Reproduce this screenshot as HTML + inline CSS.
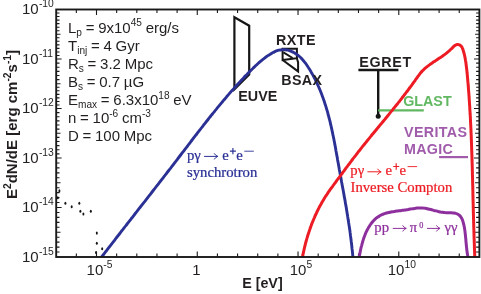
<!DOCTYPE html><html><head><meta charset="utf-8"><style>
html,body{margin:0;padding:0;background:#fff;}
body{width:481px;height:294px;overflow:hidden;position:relative;}
svg{position:absolute;left:0;top:0;will-change:transform;}
text{font-family:"Liberation Sans",sans-serif;}
.ser{font-family:"Liberation Serif",serif;}
</style></head><body>
<svg width="481" height="294" viewBox="0 0 481 294">
<defs><filter id="ga" x="-5%" y="-5%" width="110%" height="110%"><feOffset dx="0" dy="0"/></filter></defs>
<rect x="0" y="0" width="481" height="294" fill="#fff"/>
<clipPath id="cp"><rect x="56.2" y="9.5" width="423.2" height="247.5"/></clipPath>
<path d="M76.35 257.0 v-3.6 M76.35 9.5 v3.6 M96.50 257.0 v-5.6 M96.50 9.5 v5.6 M116.66 257.0 v-3.6 M116.66 9.5 v3.6 M136.81 257.0 v-3.6 M136.81 9.5 v3.6 M156.96 257.0 v-3.6 M156.96 9.5 v3.6 M177.11 257.0 v-3.6 M177.11 9.5 v3.6 M197.27 257.0 v-5.6 M197.27 9.5 v5.6 M217.42 257.0 v-3.6 M217.42 9.5 v3.6 M237.57 257.0 v-3.6 M237.57 9.5 v3.6 M257.72 257.0 v-3.6 M257.72 9.5 v3.6 M277.88 257.0 v-3.6 M277.88 9.5 v3.6 M298.03 257.0 v-5.6 M298.03 9.5 v5.6 M318.18 257.0 v-3.6 M318.18 9.5 v3.6 M338.33 257.0 v-3.6 M338.33 9.5 v3.6 M358.49 257.0 v-3.6 M358.49 9.5 v3.6 M378.64 257.0 v-3.6 M378.64 9.5 v3.6 M398.79 257.0 v-5.6 M398.79 9.5 v5.6 M418.94 257.0 v-3.6 M418.94 9.5 v3.6 M439.10 257.0 v-3.6 M439.10 9.5 v3.6 M459.25 257.0 v-3.6 M459.25 9.5 v3.6 M56.2 13.04 h3.3 M479.4 13.04 h-3.3 M56.2 16.57 h3.3 M479.4 16.57 h-3.3 M56.2 20.11 h3.3 M479.4 20.11 h-3.3 M56.2 23.64 h3.3 M479.4 23.64 h-3.3 M56.2 27.18 h3.3 M479.4 27.18 h-3.3 M56.2 30.71 h3.3 M479.4 30.71 h-3.3 M56.2 34.25 h4.3 M479.4 34.25 h-4.3 M56.2 37.79 h3.3 M479.4 37.79 h-3.3 M56.2 41.32 h3.3 M479.4 41.32 h-3.3 M56.2 44.86 h3.3 M479.4 44.86 h-3.3 M56.2 48.39 h3.3 M479.4 48.39 h-3.3 M56.2 51.93 h3.3 M479.4 51.93 h-3.3 M56.2 55.46 h3.3 M479.4 55.46 h-3.3 M56.2 59.00 h5.4 M479.4 59.00 h-5.4 M56.2 63.13 h3.3 M479.4 63.13 h-3.3 M56.2 67.25 h3.3 M479.4 67.25 h-3.3 M56.2 71.38 h3.3 M479.4 71.38 h-3.3 M56.2 75.50 h3.3 M479.4 75.50 h-3.3 M56.2 79.62 h3.3 M479.4 79.62 h-3.3 M56.2 83.75 h4.3 M479.4 83.75 h-4.3 M56.2 87.29 h3.3 M479.4 87.29 h-3.3 M56.2 90.82 h3.3 M479.4 90.82 h-3.3 M56.2 94.36 h3.3 M479.4 94.36 h-3.3 M56.2 97.89 h3.3 M479.4 97.89 h-3.3 M56.2 101.43 h3.3 M479.4 101.43 h-3.3 M56.2 104.96 h3.3 M479.4 104.96 h-3.3 M56.2 108.50 h5.4 M479.4 108.50 h-5.4 M56.2 112.63 h3.3 M479.4 112.63 h-3.3 M56.2 116.75 h3.3 M479.4 116.75 h-3.3 M56.2 120.88 h3.3 M479.4 120.88 h-3.3 M56.2 125.00 h3.3 M479.4 125.00 h-3.3 M56.2 129.12 h3.3 M479.4 129.12 h-3.3 M56.2 133.25 h4.3 M479.4 133.25 h-4.3 M56.2 137.38 h3.3 M479.4 137.38 h-3.3 M56.2 141.50 h3.3 M479.4 141.50 h-3.3 M56.2 145.62 h3.3 M479.4 145.62 h-3.3 M56.2 149.75 h3.3 M479.4 149.75 h-3.3 M56.2 153.87 h3.3 M479.4 153.87 h-3.3 M56.2 158.00 h5.4 M479.4 158.00 h-5.4 M56.2 162.95 h3.3 M479.4 162.95 h-3.3 M56.2 167.90 h3.3 M479.4 167.90 h-3.3 M56.2 172.85 h3.3 M479.4 172.85 h-3.3 M56.2 177.80 h3.3 M479.4 177.80 h-3.3 M56.2 182.75 h4.3 M479.4 182.75 h-4.3 M56.2 187.70 h3.3 M479.4 187.70 h-3.3 M56.2 192.65 h3.3 M479.4 192.65 h-3.3 M56.2 197.60 h3.3 M479.4 197.60 h-3.3 M56.2 202.55 h3.3 M479.4 202.55 h-3.3 M56.2 207.50 h5.4 M479.4 207.50 h-5.4 M56.2 212.45 h3.3 M479.4 212.45 h-3.3 M56.2 217.40 h3.3 M479.4 217.40 h-3.3 M56.2 222.35 h3.3 M479.4 222.35 h-3.3 M56.2 227.30 h3.3 M479.4 227.30 h-3.3 M56.2 232.25 h4.3 M479.4 232.25 h-4.3 M56.2 237.20 h3.3 M479.4 237.20 h-3.3 M56.2 242.15 h3.3 M479.4 242.15 h-3.3 M56.2 247.10 h3.3 M479.4 247.10 h-3.3 M56.2 252.05 h3.3 M479.4 252.05 h-3.3" stroke="#1a1a1a" stroke-width="1.1" fill="none"/>
<g stroke="#161616" stroke-width="2.2" fill="none" stroke-linejoin="miter">
<path d="M234.4 17.2 L249.2 25.7 L249.2 74.5 L234.4 89.4 Z"/>
<path d="M282.6 48.8 L296.9 48.8 L296.9 58.2 L282.6 60.0 Z" stroke-width="2.0"/>
<path d="M283.4 52.4 L292.6 58" stroke-width="2.0"/>
<path d="M282.6 60.0 L298.1 71.4 L298.1 62.4 L296.9 58.2" stroke-width="2.0"/>
<path d="M358.4 70 H398.4" stroke-width="2.3"/>
<path d="M378.2 70 V116" stroke-width="2.4"/>
</g>
<circle cx="378.2" cy="116.2" r="2.5" fill="#161616"/>
<path d="M378.2 110.4 H423.8" stroke="#62b862" stroke-width="2.3" fill="none"/>
<path d="M439.1 157.1 H468" stroke="#a05cab" stroke-width="2.2" fill="none"/>
<g clip-path="url(#cp)">
<path d="M359.1 257.9 C359.1 257.6 359.3 256.6 359.4 255.9 C359.5 255.3 359.7 254.6 359.8 253.9 C359.9 253.2 360.1 252.5 360.2 251.8 C360.3 251.1 360.5 250.3 360.6 249.6 C360.8 248.9 361.0 248.2 361.1 247.4 C361.3 246.7 361.5 246.0 361.7 245.3 C361.9 244.5 362.1 243.8 362.3 243.0 C362.5 242.3 362.7 241.6 362.9 240.8 C363.2 240.1 363.4 239.4 363.6 238.7 C363.9 237.9 364.1 237.2 364.4 236.5 C364.7 235.8 364.9 235.1 365.2 234.3 C365.5 233.6 365.8 232.9 366.1 232.2 C366.4 231.6 366.8 230.9 367.1 230.2 C367.4 229.5 367.8 228.9 368.2 228.2 C368.5 227.6 368.9 226.9 369.3 226.3 C369.7 225.7 370.1 225.1 370.5 224.5 C370.9 223.9 371.3 223.3 371.8 222.7 C372.2 222.2 372.7 221.6 373.2 221.1 C373.6 220.6 374.1 220.1 374.6 219.6 C375.2 219.1 375.7 218.6 376.2 218.2 C376.8 217.7 377.3 217.3 377.9 216.9 C378.5 216.5 379.1 216.1 379.7 215.8 C380.3 215.5 380.9 215.1 381.5 214.8 C382.2 214.5 382.8 214.3 383.5 214.0 C384.2 213.8 384.9 213.5 385.6 213.3 C386.3 213.1 387.0 212.9 387.7 212.7 C388.5 212.5 389.2 212.4 389.9 212.2 C390.7 212.1 391.4 211.9 392.2 211.8 C392.9 211.7 393.7 211.6 394.5 211.5 C395.2 211.3 396.0 211.2 396.8 211.1 C397.5 211.0 398.3 210.9 399.1 210.8 C399.9 210.7 400.6 210.6 401.4 210.5 C402.2 210.4 402.9 210.3 403.7 210.2 C404.5 210.1 405.2 210.0 406.0 209.9 C406.7 209.7 407.4 209.6 408.2 209.5 C408.9 209.3 409.6 209.2 410.4 209.1 C411.1 209.0 411.8 208.8 412.5 208.7 C413.3 208.6 414.0 208.5 414.7 208.4 C415.4 208.3 416.1 208.2 416.8 208.1 C417.5 208.1 418.2 208.0 418.9 208.0 C419.6 208.0 420.3 207.9 421.1 208.0 C421.8 208.0 422.5 208.0 423.2 208.1 C423.9 208.1 424.6 208.2 425.3 208.3 C426.0 208.4 426.7 208.6 427.4 208.7 C428.1 208.9 428.8 209.0 429.5 209.2 C430.2 209.4 430.9 209.6 431.7 209.8 C432.4 210.0 433.1 210.2 433.8 210.4 C434.5 210.5 435.3 210.7 436.0 210.9 C436.7 211.1 437.4 211.3 438.2 211.5 C438.9 211.6 439.7 211.8 440.4 212.0 C441.1 212.1 441.9 212.2 442.6 212.3 C443.4 212.4 444.2 212.5 444.9 212.6 C445.7 212.6 446.5 212.7 447.2 212.7 C448.0 212.7 448.8 212.7 449.5 212.7 C450.3 212.8 451.0 212.8 451.7 212.8 C452.5 212.9 453.2 212.9 453.9 213.0 C454.5 213.1 455.2 213.2 455.8 213.4 C456.5 213.6 457.1 213.8 457.6 214.1 C458.2 214.3 458.7 214.7 459.2 215.1 C459.6 215.5 460.1 216.0 460.5 216.5 C460.9 217.0 461.2 217.6 461.6 218.2 C461.9 218.8 462.2 219.5 462.5 220.2 C462.8 220.9 463.0 221.6 463.2 222.3 C463.4 223.1 463.6 223.9 463.8 224.6 C464.0 225.4 464.1 226.2 464.3 227.0 C464.4 227.8 464.6 228.6 464.7 229.4 C464.8 230.2 464.9 231.0 465.0 231.7 C465.1 232.5 465.2 233.3 465.3 234.0 C465.4 234.8 465.4 235.5 465.5 236.2 C465.6 237.0 465.7 237.7 465.7 238.4 C465.8 239.1 465.9 239.8 465.9 240.6 C466.0 241.3 466.0 242.0 466.1 242.7 C466.2 243.4 466.2 244.1 466.3 244.8 C466.4 245.5 466.4 246.2 466.5 246.9 C466.6 247.6 466.7 248.3 466.7 249.0 C466.8 249.8 466.9 250.5 467.0 251.2 C467.1 251.9 467.2 252.7 467.3 253.4 C467.4 254.1 467.5 254.9 467.7 255.7 C467.8 256.4 468.0 257.6 468.1 258.0" stroke="#8e2f9e" stroke-width="3" fill="none" stroke-linejoin="round"/>
<path d="M100.7 258.3 C101.0 257.9 101.9 256.6 102.6 255.8 C103.2 254.9 103.9 254.1 104.5 253.2 C105.2 252.4 105.8 251.5 106.5 250.7 C107.1 249.9 107.8 249.0 108.4 248.2 C109.1 247.3 109.7 246.5 110.4 245.6 C111.0 244.8 111.7 243.9 112.3 243.1 C113.0 242.3 113.6 241.4 114.3 240.6 C114.9 239.7 115.6 238.9 116.2 238.0 C116.9 237.2 117.5 236.3 118.2 235.5 C118.9 234.7 119.5 233.8 120.2 233.0 C120.8 232.1 121.5 231.3 122.1 230.4 C122.8 229.6 123.4 228.8 124.1 227.9 C124.7 227.1 125.4 226.2 126.1 225.4 C126.7 224.5 127.4 223.7 128.0 222.9 C128.7 222.0 129.3 221.2 130.0 220.3 C130.7 219.5 131.3 218.6 132.0 217.8 C132.6 217.0 133.3 216.1 133.9 215.3 C134.6 214.4 135.2 213.6 135.9 212.7 C136.6 211.9 137.2 211.1 137.9 210.2 C138.5 209.4 139.2 208.5 139.8 207.7 C140.5 206.9 141.2 206.0 141.8 205.2 C142.5 204.3 143.1 203.5 143.8 202.6 C144.5 201.8 145.1 201.0 145.8 200.1 C146.4 199.3 147.1 198.4 147.7 197.6 C148.4 196.7 149.1 195.9 149.7 195.1 C150.4 194.2 151.0 193.4 151.7 192.5 C152.3 191.7 153.0 190.8 153.6 190.0 C154.3 189.2 155.0 188.3 155.6 187.5 C156.3 186.6 156.9 185.8 157.6 184.9 C158.2 184.1 158.9 183.3 159.5 182.4 C160.2 181.6 160.9 180.7 161.5 179.9 C162.2 179.0 162.8 178.2 163.5 177.3 C164.1 176.5 164.8 175.7 165.4 174.8 C166.1 174.0 166.7 173.1 167.4 172.3 C168.0 171.4 168.7 170.6 169.4 169.7 C170.0 168.9 170.7 168.1 171.3 167.2 C172.0 166.4 172.6 165.5 173.3 164.7 C173.9 163.8 174.6 163.0 175.2 162.1 C175.9 161.3 176.5 160.4 177.2 159.6 C177.8 158.7 178.4 157.9 179.1 157.0 C179.7 156.2 180.4 155.3 181.0 154.5 C181.7 153.6 182.3 152.8 183.0 151.9 C183.6 151.1 184.3 150.3 184.9 149.4 C185.6 148.6 186.2 147.7 186.9 146.9 C187.5 146.0 188.2 145.2 188.8 144.3 C189.4 143.5 190.1 142.6 190.7 141.8 C191.4 140.9 192.0 140.1 192.7 139.2 C193.3 138.4 194.0 137.5 194.6 136.7 C195.3 135.9 195.9 135.0 196.6 134.2 C197.2 133.3 197.9 132.5 198.5 131.6 C199.2 130.8 199.8 129.9 200.5 129.1 C201.1 128.3 201.8 127.4 202.5 126.6 C203.1 125.7 203.8 124.9 204.4 124.1 C205.1 123.2 205.7 122.4 206.4 121.5 C207.1 120.7 207.7 119.9 208.4 119.0 C209.0 118.2 209.7 117.4 210.4 116.5 C211.0 115.7 211.7 114.9 212.4 114.0 C213.0 113.2 213.7 112.4 214.4 111.6 C215.0 110.7 215.7 109.9 216.4 109.1 C217.1 108.2 217.7 107.4 218.4 106.6 C219.1 105.8 219.8 105.0 220.5 104.1 C221.1 103.3 221.8 102.5 222.5 101.7 C223.2 100.9 223.9 100.0 224.6 99.2 C225.3 98.4 226.0 97.6 226.6 96.8 C227.3 96.0 228.0 95.2 228.7 94.4 C229.4 93.6 230.1 92.8 230.8 91.9 C231.5 91.1 232.2 90.3 233.0 89.5 C233.7 88.7 234.4 87.9 235.1 87.1 C235.8 86.4 236.5 85.6 237.2 84.8 C238.0 84.0 238.7 83.2 239.4 82.4 C240.1 81.6 240.9 80.8 241.6 80.0 C242.3 79.3 243.1 78.5 243.8 77.7 C244.5 76.9 245.3 76.1 246.0 75.4 C246.8 74.6 247.5 73.8 248.2 73.1 C249.0 72.3 249.8 71.5 250.5 70.8 C251.3 70.0 252.0 69.2 252.8 68.5 C253.6 67.7 254.3 67.0 255.1 66.2 C255.9 65.5 256.7 64.8 257.5 64.0 C258.3 63.3 259.1 62.6 259.9 61.9 C260.7 61.2 261.5 60.5 262.3 59.8 C263.2 59.1 264.0 58.5 264.9 57.8 C265.7 57.2 266.6 56.6 267.5 55.9 C268.4 55.3 269.3 54.7 270.2 54.2 C271.1 53.6 272.0 53.0 273.0 52.5 C273.9 52.1 274.9 51.6 275.8 51.2 C276.8 50.8 277.8 50.5 278.8 50.2 C279.8 50.0 280.8 49.8 281.8 49.7 C282.9 49.6 283.9 49.6 284.9 49.7 C285.9 49.8 286.9 49.9 287.9 50.2 C288.9 50.4 289.9 50.8 290.9 51.1 C291.9 51.5 292.8 52.0 293.8 52.5 C294.7 53.0 295.6 53.6 296.5 54.2 C297.4 54.8 298.2 55.5 299.0 56.1 C299.9 56.8 300.6 57.6 301.4 58.4 C302.1 59.1 302.8 59.9 303.5 60.8 C304.2 61.6 304.9 62.5 305.6 63.3 C306.2 64.2 306.8 65.1 307.4 66.0 C308.0 66.9 308.6 67.8 309.2 68.8 C309.8 69.7 310.3 70.6 310.9 71.6 C311.4 72.5 312.0 73.4 312.5 74.4 C313.0 75.3 313.5 76.3 314.0 77.2 C314.5 78.2 315.0 79.1 315.5 80.1 C316.0 81.1 316.4 82.0 316.9 83.0 C317.3 84.0 317.8 84.9 318.2 85.9 C318.7 86.9 319.1 87.9 319.5 88.8 C319.9 89.8 320.3 90.8 320.7 91.8 C321.1 92.8 321.5 93.8 321.9 94.8 C322.2 95.8 322.6 96.8 323.0 97.8 C323.3 98.8 323.7 99.8 324.0 100.8 C324.4 101.8 324.7 102.8 325.0 103.8 C325.3 104.8 325.7 105.8 326.0 106.8 C326.3 107.8 326.6 108.9 326.9 109.9 C327.2 110.9 327.5 111.9 327.8 112.9 C328.0 114.0 328.3 115.0 328.6 116.0 C328.9 117.0 329.1 118.1 329.4 119.1 C329.7 120.1 329.9 121.2 330.2 122.2 C330.4 123.2 330.6 124.3 330.9 125.3 C331.1 126.4 331.4 127.4 331.6 128.4 C331.8 129.5 332.0 130.5 332.3 131.6 C332.5 132.6 332.7 133.7 332.9 134.7 C333.1 135.7 333.4 136.8 333.6 137.8 C333.8 138.9 334.0 139.9 334.2 141.0 C334.4 142.0 334.6 143.1 334.8 144.1 C335.0 145.2 335.2 146.2 335.4 147.3 C335.6 148.3 335.8 149.4 335.9 150.5 C336.1 151.5 336.3 152.6 336.5 153.6 C336.7 154.7 336.9 155.7 337.1 156.8 C337.3 157.8 337.5 158.9 337.6 159.9 C337.8 161.0 338.0 162.0 338.2 163.1 C338.4 164.2 338.6 165.2 338.8 166.3 C339.0 167.3 339.2 168.4 339.3 169.4 C339.5 170.5 339.7 171.5 339.9 172.6 C340.1 173.6 340.3 174.7 340.5 175.7 C340.7 176.8 340.9 177.8 341.1 178.9 C341.3 179.9 341.5 181.0 341.6 182.0 C341.8 183.1 342.0 184.1 342.2 185.2 C342.4 186.2 342.6 187.3 342.8 188.3 C343.0 189.4 343.2 190.4 343.4 191.5 C343.6 192.5 343.8 193.6 343.9 194.6 C344.1 195.7 344.3 196.7 344.5 197.8 C344.7 198.8 344.9 199.9 345.1 200.9 C345.2 202.0 345.4 203.0 345.6 204.1 C345.8 205.1 346.0 206.2 346.2 207.2 C346.3 208.3 346.5 209.3 346.7 210.4 C346.9 211.4 347.0 212.5 347.2 213.5 C347.4 214.6 347.6 215.6 347.7 216.7 C347.9 217.8 348.1 218.8 348.2 219.9 C348.4 220.9 348.6 222.0 348.7 223.0 C348.9 224.1 349.0 225.1 349.2 226.2 C349.4 227.2 349.5 228.3 349.7 229.3 C349.8 230.4 350.0 231.5 350.1 232.5 C350.3 233.6 350.4 234.6 350.5 235.7 C350.7 236.7 350.8 237.8 350.9 238.9 C351.1 239.9 351.2 241.0 351.3 242.0 C351.5 243.1 351.6 244.2 351.7 245.2 C351.8 246.3 351.9 247.4 352.0 248.4 C352.2 249.5 352.3 250.5 352.4 251.6 C352.5 252.7 352.6 253.7 352.7 254.8 C352.8 255.9 352.9 257.5 352.9 258.0" stroke="#2b3095" stroke-width="2.9" fill="none" stroke-linejoin="round"/>
<path d="M302.4 257.5 C302.5 257.1 302.7 255.9 302.9 255.1 C303.0 254.3 303.2 253.5 303.4 252.7 C303.5 251.9 303.7 251.1 303.9 250.3 C304.1 249.6 304.2 248.8 304.4 248.0 C304.6 247.2 304.8 246.4 305.0 245.6 C305.2 244.8 305.4 244.0 305.6 243.2 C305.8 242.5 306.0 241.7 306.2 240.9 C306.5 240.1 306.7 239.3 306.9 238.5 C307.1 237.7 307.4 237.0 307.6 236.2 C307.8 235.4 308.1 234.6 308.3 233.9 C308.6 233.1 308.8 232.3 309.1 231.5 C309.3 230.8 309.6 230.0 309.9 229.2 C310.1 228.4 310.4 227.7 310.7 226.9 C311.0 226.2 311.2 225.4 311.5 224.6 C311.8 223.9 312.1 223.1 312.4 222.3 C312.7 221.6 313.0 220.8 313.3 220.1 C313.6 219.3 313.9 218.6 314.3 217.8 C314.6 217.1 314.9 216.3 315.2 215.6 C315.6 214.9 315.9 214.1 316.3 213.4 C316.6 212.6 317.0 211.9 317.3 211.2 C317.7 210.5 318.0 209.7 318.4 209.0 C318.8 208.3 319.1 207.6 319.5 206.8 C319.9 206.1 320.3 205.4 320.7 204.7 C321.1 204.0 321.5 203.3 321.9 202.6 C322.3 201.9 322.7 201.2 323.1 200.5 C323.5 199.8 323.9 199.1 324.3 198.4 C324.8 197.7 325.2 197.0 325.6 196.3 C326.1 195.7 326.5 195.0 327.0 194.3 C327.4 193.6 327.9 193.0 328.3 192.3 C328.8 191.6 329.3 191.0 329.7 190.3 C330.2 189.6 330.7 189.0 331.1 188.3 C331.6 187.6 332.1 187.0 332.6 186.3 C333.0 185.7 333.5 185.0 334.0 184.4 C334.5 183.7 335.0 183.1 335.5 182.4 C335.9 181.8 336.4 181.1 336.9 180.4 C337.4 179.8 337.9 179.1 338.4 178.5 C338.9 177.8 339.3 177.2 339.8 176.5 C340.3 175.9 340.8 175.2 341.3 174.6 C341.8 173.9 342.2 173.3 342.7 172.6 C343.2 172.0 343.7 171.3 344.2 170.7 C344.7 170.0 345.1 169.4 345.6 168.7 C346.1 168.0 346.6 167.4 347.1 166.7 C347.6 166.1 348.0 165.4 348.5 164.8 C349.0 164.1 349.5 163.5 350.0 162.8 C350.5 162.2 351.0 161.5 351.5 160.9 C351.9 160.2 352.4 159.6 352.9 158.9 C353.4 158.3 353.9 157.7 354.4 157.0 C354.9 156.4 355.4 155.7 355.9 155.1 C356.4 154.4 356.9 153.8 357.4 153.1 C357.9 152.5 358.4 151.9 358.9 151.2 C359.4 150.6 359.9 150.0 360.4 149.3 C360.9 148.7 361.4 148.0 361.9 147.4 C362.4 146.8 362.9 146.1 363.4 145.5 C363.9 144.9 364.4 144.2 365.0 143.6 C365.5 143.0 366.0 142.3 366.5 141.7 C367.0 141.1 367.5 140.4 368.0 139.8 C368.5 139.2 369.1 138.5 369.6 137.9 C370.1 137.3 370.6 136.7 371.1 136.0 C371.6 135.4 372.1 134.8 372.7 134.1 C373.2 133.5 373.7 132.9 374.2 132.3 C374.7 131.6 375.2 131.0 375.8 130.4 C376.3 129.7 376.8 129.1 377.3 128.5 C377.8 127.9 378.3 127.2 378.9 126.6 C379.4 126.0 379.9 125.4 380.4 124.7 C380.9 124.1 381.5 123.5 382.0 122.8 C382.5 122.2 383.0 121.6 383.5 121.0 C384.0 120.3 384.6 119.7 385.1 119.1 C385.6 118.4 386.1 117.8 386.6 117.2 C387.1 116.6 387.7 115.9 388.2 115.3 C388.7 114.7 389.2 114.0 389.7 113.4 C390.2 112.8 390.7 112.2 391.2 111.5 C391.8 110.9 392.3 110.3 392.8 109.6 C393.3 109.0 393.8 108.4 394.3 107.7 C394.8 107.1 395.3 106.5 395.8 105.8 C396.3 105.2 396.8 104.6 397.4 103.9 C397.9 103.3 398.4 102.7 398.9 102.0 C399.4 101.4 399.9 100.7 400.4 100.1 C400.9 99.5 401.4 98.8 401.9 98.2 C402.4 97.5 402.9 96.9 403.4 96.3 C403.8 95.6 404.3 95.0 404.8 94.3 C405.3 93.7 405.8 93.0 406.3 92.4 C406.8 91.7 407.3 91.1 407.8 90.5 C408.3 89.8 408.7 89.1 409.2 88.5 C409.7 87.8 410.2 87.2 410.7 86.5 C411.2 85.9 411.6 85.2 412.1 84.6 C412.6 83.9 413.1 83.2 413.5 82.6 C414.0 81.9 414.5 81.3 415.0 80.6 C415.4 79.9 415.9 79.3 416.4 78.6 C416.9 77.9 417.3 77.3 417.8 76.6 C418.3 75.9 418.8 75.3 419.3 74.6 C419.8 74.0 420.3 73.4 420.8 72.7 C421.3 72.1 421.8 71.5 422.4 70.9 C422.9 70.3 423.5 69.8 424.1 69.2 C424.7 68.7 425.3 68.1 425.9 67.6 C426.5 67.1 427.2 66.6 427.8 66.1 C428.5 65.6 429.1 65.1 429.8 64.6 C430.4 64.1 431.1 63.7 431.8 63.2 C432.5 62.7 433.1 62.3 433.8 61.8 C434.5 61.4 435.2 60.9 435.9 60.5 C436.6 60.0 437.3 59.6 437.9 59.1 C438.6 58.7 439.3 58.3 440.0 57.8 C440.7 57.4 441.3 56.9 442.0 56.4 C442.6 56.0 443.3 55.5 443.9 55.1 C444.6 54.6 445.2 54.1 445.9 53.6 C446.5 53.1 447.1 52.6 447.7 52.1 C448.3 51.6 449.0 51.1 449.6 50.5 C450.2 50.0 450.8 49.4 451.4 48.8 C452.0 48.3 452.6 47.6 453.2 47.0 C453.8 46.5 454.4 45.8 455.1 45.4 C455.7 44.9 456.4 44.6 457.2 44.5 C457.9 44.4 458.8 44.5 459.5 44.8 C460.2 45.1 460.8 45.6 461.3 46.2 C461.8 46.8 462.2 47.5 462.5 48.3 C462.8 49.0 463.0 49.9 463.3 50.7 C463.5 51.5 463.7 52.3 464.0 53.1 C464.2 53.9 464.4 54.7 464.6 55.5 C464.7 56.3 464.9 57.1 465.1 57.9 C465.2 58.7 465.4 59.5 465.5 60.3 C465.7 61.1 465.8 61.9 465.9 62.7 C466.0 63.6 466.1 64.4 466.2 65.2 C466.3 66.0 466.4 66.8 466.5 67.6 C466.6 68.4 466.7 69.2 466.8 70.0 C466.9 70.8 467.0 71.6 467.0 72.4 C467.1 73.2 467.2 74.0 467.3 74.8 C467.3 75.7 467.4 76.5 467.5 77.3 C467.6 78.1 467.6 78.9 467.7 79.7 C467.8 80.5 467.8 81.3 467.9 82.1 C468.0 82.9 468.1 83.7 468.1 84.5 C468.2 85.3 468.3 86.2 468.3 87.0 C468.4 87.8 468.4 88.6 468.5 89.4 C468.6 90.2 468.6 91.0 468.7 91.8 C468.8 92.6 468.8 93.4 468.9 94.2 C468.9 95.1 469.0 95.9 469.1 96.7 C469.1 97.5 469.2 98.3 469.2 99.1 C469.3 99.9 469.3 100.7 469.4 101.5 C469.4 102.3 469.5 103.2 469.5 104.0 C469.6 104.8 469.7 105.6 469.7 106.4 C469.8 107.2 469.8 108.0 469.8 108.8 C469.9 109.6 469.9 110.4 470.0 111.3 C470.0 112.1 470.1 112.9 470.1 113.7 C470.2 114.5 470.2 115.3 470.3 116.1 C470.3 116.9 470.4 117.7 470.4 118.6 C470.4 119.4 470.5 120.2 470.5 121.0 C470.6 121.8 470.6 122.6 470.6 123.4 C470.7 124.2 470.7 125.0 470.8 125.9 C470.8 126.7 470.8 127.5 470.9 128.3 C470.9 129.1 470.9 129.9 471.0 130.7 C471.0 131.5 471.0 132.4 471.1 133.2 C471.1 134.0 471.2 134.8 471.2 135.6 C471.2 136.4 471.3 137.2 471.3 138.0 C471.3 138.9 471.3 139.7 471.4 140.5 C471.4 141.3 471.4 142.1 471.5 142.9 C471.5 143.7 471.5 144.5 471.6 145.4 C471.6 146.2 471.6 147.0 471.6 147.8 C471.7 148.6 471.7 149.4 471.7 150.2 C471.8 151.0 471.8 151.9 471.8 152.7 C471.8 153.5 471.9 154.3 471.9 155.1 C471.9 155.9 471.9 156.7 472.0 157.6 C472.0 158.4 472.0 159.2 472.0 160.0 C472.1 160.8 472.1 161.6 472.1 162.4 C472.1 163.2 472.2 164.1 472.2 164.9 C472.2 165.7 472.2 166.5 472.3 167.3 C472.3 168.1 472.3 168.9 472.3 169.8 C472.3 170.6 472.4 171.4 472.4 172.2 C472.4 173.0 472.4 173.8 472.4 174.6 C472.5 175.4 472.5 176.3 472.5 177.1 C472.5 177.9 472.6 178.7 472.6 179.5 C472.6 180.3 472.6 181.1 472.6 182.0 C472.7 182.8 472.7 183.6 472.7 184.4 C472.7 185.2 472.7 186.0 472.8 186.8 C472.8 187.6 472.8 188.5 472.8 189.3 C472.8 190.1 472.9 190.9 472.9 191.7 C472.9 192.5 472.9 193.3 472.9 194.2 C472.9 195.0 473.0 195.8 473.0 196.6 C473.0 197.4 473.0 198.2 473.0 199.0 C473.1 199.8 473.1 200.7 473.1 201.5 C473.1 202.3 473.1 203.1 473.2 203.9 C473.2 204.7 473.2 205.5 473.2 206.4 C473.2 207.2 473.3 208.0 473.3 208.8 C473.3 209.6 473.3 210.4 473.3 211.2 C473.4 212.0 473.4 212.9 473.4 213.7 C473.4 214.5 473.4 215.3 473.5 216.1 C473.5 216.9 473.5 217.7 473.5 218.5 C473.6 219.4 473.6 220.2 473.6 221.0 C473.6 221.8 473.6 222.6 473.7 223.4 C473.7 224.2 473.7 225.0 473.7 225.9 C473.8 226.7 473.8 227.5 473.8 228.3 C473.8 229.1 473.9 229.9 473.9 230.7 C473.9 231.5 473.9 232.4 474.0 233.2 C474.0 234.0 474.0 234.8 474.0 235.6 C474.1 236.4 474.1 237.2 474.1 238.0 C474.1 238.8 474.2 239.7 474.2 240.5 C474.2 241.3 474.2 242.1 474.3 242.9 C474.3 243.7 474.3 244.5 474.4 245.3 C474.4 246.1 474.4 247.0 474.4 247.8 C474.5 248.6 474.5 249.4 474.5 250.2 C474.6 251.0 474.6 251.8 474.6 252.6 C474.7 253.4 474.7 254.3 474.7 255.1 C474.8 255.9 474.8 257.1 474.8 257.5" stroke="#ed1c24" stroke-width="3" fill="none" stroke-linejoin="round"/>
</g>
<ellipse cx="59.4" cy="190.9" rx="1.0" ry="1.55" fill="#161616"/>
<ellipse cx="57.8" cy="197.7" rx="1.0" ry="1.55" fill="#161616"/>
<ellipse cx="65.4" cy="203.2" rx="1.0" ry="1.55" fill="#161616"/>
<ellipse cx="71.7" cy="206.7" rx="1.0" ry="1.55" fill="#161616"/>
<ellipse cx="79.3" cy="203.2" rx="1.0" ry="1.55" fill="#161616"/>
<ellipse cx="80.4" cy="211.3" rx="1.0" ry="1.55" fill="#161616"/>
<ellipse cx="83.4" cy="214.0" rx="1.0" ry="1.55" fill="#161616"/>
<ellipse cx="90.8" cy="211.3" rx="1.0" ry="1.55" fill="#161616"/>
<ellipse cx="96.8" cy="233.1" rx="1.0" ry="1.55" fill="#161616"/>
<ellipse cx="96.8" cy="243.2" rx="1.0" ry="1.55" fill="#161616"/>
<ellipse cx="102.2" cy="248.7" rx="1.0" ry="1.55" fill="#161616"/>
<ellipse cx="96.0" cy="252.5" rx="1.0" ry="1.55" fill="#161616"/>
<rect x="56.2" y="9.5" width="423.2" height="247.5" fill="none" stroke="#1a1a1a" stroke-width="1.9"/>
<g filter="url(#ga)">
<text x="38.6" y="261.5" font-size="15" text-anchor="end" fill="#231f20">10</text>
<text x="38.9" y="254.9" font-size="10.3" fill="#231f20">-15</text>
<text x="38.6" y="212.0" font-size="15" text-anchor="end" fill="#231f20">10</text>
<text x="38.9" y="205.4" font-size="10.3" fill="#231f20">-14</text>
<text x="38.6" y="162.5" font-size="15" text-anchor="end" fill="#231f20">10</text>
<text x="38.9" y="155.9" font-size="10.3" fill="#231f20">-13</text>
<text x="38.6" y="113.0" font-size="15" text-anchor="end" fill="#231f20">10</text>
<text x="38.9" y="106.4" font-size="10.3" fill="#231f20">-12</text>
<text x="38.6" y="63.5" font-size="15" text-anchor="end" fill="#231f20">10</text>
<text x="38.9" y="56.9" font-size="10.3" fill="#231f20">-11</text>
<text x="38.6" y="14.0" font-size="15" text-anchor="end" fill="#231f20">10</text>
<text x="38.9" y="7.4" font-size="10.3" fill="#231f20">-10</text>
<text x="99.5" y="274.6" font-size="15" text-anchor="middle" fill="#231f20">10<tspan font-size="10.3" dy="-6.6">-5</tspan></text>
<text x="196.5" y="274.6" font-size="15" text-anchor="middle" fill="#231f20">1</text>
<text x="301.0" y="274.6" font-size="15" text-anchor="middle" fill="#231f20">10<tspan font-size="10.3" dy="-6.6">5</tspan></text>
<text x="401.8" y="274.6" font-size="15" text-anchor="middle" fill="#231f20">10<tspan font-size="10.3" dy="-6.6">10</tspan></text>
<text x="262.4" y="287.7" font-size="14.3" font-weight="bold" text-anchor="middle" fill="#231f20">E [eV]</text>
<text transform="translate(17.3,124.5) rotate(-90)" font-size="15" font-weight="bold" text-anchor="middle" fill="#231f20">E<tspan font-size="10.3" dy="-6">2</tspan><tspan dy="6">dN/dE [erg cm</tspan><tspan font-size="10.3" dy="-6">-2</tspan><tspan dy="6">s</tspan><tspan font-size="10.3" dy="-6">-1</tspan><tspan dy="6">]</tspan></text>
<text x="68" y="32.7" font-size="15" fill="#231f20" word-spacing="-0.45">L<tspan font-size="10.1" dy="3">p</tspan><tspan dy="-3"> = 9x10</tspan><tspan font-size="10.1" dy="-6.6">45</tspan><tspan dy="6.6"> erg/s</tspan></text>
<text x="68" y="50.8" font-size="15" fill="#231f20" word-spacing="-0.45">T<tspan font-size="10.1" dy="3">inj</tspan><tspan dy="-3"> = 4 Gyr</tspan></text>
<text x="68" y="68.9" font-size="15" fill="#231f20" word-spacing="-0.45">R<tspan font-size="10.1" dy="3">s</tspan><tspan dy="-3"> = 3.2 Mpc</tspan></text>
<text x="68" y="87.0" font-size="15" fill="#231f20" word-spacing="-0.45">B<tspan font-size="10.1" dy="3">s</tspan><tspan dy="-3"> = 0.7 µG</tspan></text>
<text x="68" y="105.1" font-size="15" fill="#231f20" word-spacing="-0.45">E<tspan font-size="10.1" dy="3">max</tspan><tspan dy="-3"> = 6.3x10</tspan><tspan font-size="10.1" dy="-6.6">18</tspan><tspan dy="6.6"> eV</tspan></text>
<text x="68" y="123.2" font-size="15" fill="#231f20" word-spacing="-0.45">n = 10<tspan font-size="10.1" dy="-6.6">-6</tspan><tspan dy="6.6"> cm</tspan><tspan font-size="10.1" dy="-6.6">-3</tspan></text>
<text x="68" y="141.3" font-size="15" fill="#231f20" word-spacing="-0.45">D = 100 Mpc</text>
<text x="276" y="45.3" font-size="14.3" font-weight="bold" fill="#231f20" letter-spacing="0.5">RXTE</text>
<text x="281.2" y="85.3" font-size="14.3" font-weight="bold" fill="#231f20" letter-spacing="0.4">BSAX</text>
<text x="238.3" y="100.5" font-size="14.3" font-weight="bold" fill="#231f20" letter-spacing="0">EUVE</text>
<text x="359.2" y="67.4" font-size="14.3" font-weight="bold" fill="#231f20" letter-spacing="0.7">EGRET</text>
<text x="403.2" y="106.4" font-size="14.3" font-weight="bold" fill="#62b862" letter-spacing="0">GLAST</text>
<text x="404.0" y="136.7" font-size="14.3" font-weight="bold" fill="#a05cab" letter-spacing="0.35">VERITAS</text>
<text x="404.0" y="154.4" font-size="14.3" font-weight="bold" fill="#a05cab" letter-spacing="0.3">MAGIC</text>
<text class="ser" transform="translate(187.0,159.7) scale(0.963,1)" font-size="15.3" fill="#2b3095" stroke="#2b3095" stroke-width="0.25">pγ</text>
<path d="M204.5 156.39999999999998 H217.5 M214.4 153.7 Q215.6 155.7 217.8 156.39999999999998 Q215.6 157.09999999999997 214.4 159.09999999999997" stroke="#2b3095" stroke-width="1.0" fill="none" stroke-linecap="round" stroke-linejoin="round"/>
<text class="ser" transform="translate(222.2,159.7) scale(0.963,1)" font-size="15.3" fill="#2b3095" stroke="#2b3095" stroke-width="0.25">e</text>
<path d="M229.9 151.1 H235.9 M232.9 147.9 V154.3" stroke="#2b3095" stroke-width="1.15" fill="none"/>
<text class="ser" transform="translate(236.3,159.7) scale(0.963,1)" font-size="15.3" fill="#2b3095" stroke="#2b3095" stroke-width="0.25">e</text>
<path d="M244.3 151.2 H253.8" stroke="#2b3095" stroke-width="0.9" fill="none"/>
<text class="ser" transform="translate(187.0,176.5) scale(0.963,1)" font-size="15.3" fill="#2b3095" stroke="#2b3095" stroke-width="0.25">synchrotron</text>
<text class="ser" transform="translate(350.3,175.1) scale(0.963,1)" font-size="15.3" fill="#ed1c24" stroke="#ed1c24" stroke-width="0.25">pγ</text>
<path d="M367.8 171.79999999999998 H380.8 M377.7 169.1 Q378.9 171.1 381.1 171.79999999999998 Q378.9 172.49999999999997 377.7 174.49999999999997" stroke="#ed1c24" stroke-width="1.0" fill="none" stroke-linecap="round" stroke-linejoin="round"/>
<text class="ser" transform="translate(385.5,175.1) scale(0.963,1)" font-size="15.3" fill="#ed1c24" stroke="#ed1c24" stroke-width="0.25">e</text>
<path d="M393.2 166.5 H399.2 M396.2 163.3 V169.7" stroke="#ed1c24" stroke-width="1.15" fill="none"/>
<text class="ser" transform="translate(399.6,175.1) scale(0.963,1)" font-size="15.3" fill="#ed1c24" stroke="#ed1c24" stroke-width="0.25">e</text>
<path d="M407.6 166.6 H417.1" stroke="#ed1c24" stroke-width="0.9" fill="none"/>
<text class="ser" transform="translate(350.5,192.4) scale(0.963,1)" font-size="15.3" fill="#ed1c24" stroke="#ed1c24" stroke-width="0.25">Inverse Compton</text>
<text class="ser" transform="translate(374.3,231.9) scale(0.963,1)" font-size="15.3" fill="#8e2f9e" stroke="#8e2f9e" stroke-width="0.25">pp</text>
<path d="M393.1 228.4 H405.9 M402.8 225.70000000000002 Q404.0 227.70000000000002 406.2 228.4 Q404.0 229.1 402.8 231.1" stroke="#8e2f9e" stroke-width="1.0" fill="none" stroke-linecap="round" stroke-linejoin="round"/>
<text class="ser" transform="translate(409.8,231.9) scale(0.963,1)" font-size="15.3" fill="#8e2f9e" stroke="#8e2f9e" stroke-width="0.25">π</text>
<text class="ser" transform="translate(419.2,228.4) scale(1,1)" font-size="8.2" fill="#8e2f9e" stroke="#8e2f9e" stroke-width="0.25">0</text>
<path d="M427.4 228.4 H439.7 M436.6 225.70000000000002 Q437.8 227.70000000000002 440.0 228.4 Q437.8 229.1 436.6 231.1" stroke="#8e2f9e" stroke-width="1.0" fill="none" stroke-linecap="round" stroke-linejoin="round"/>
<text class="ser" transform="translate(444.6,231.9) scale(0.963,1)" font-size="15.3" fill="#8e2f9e" stroke="#8e2f9e" stroke-width="0.25">γγ</text>
</g>
</svg></body></html>
